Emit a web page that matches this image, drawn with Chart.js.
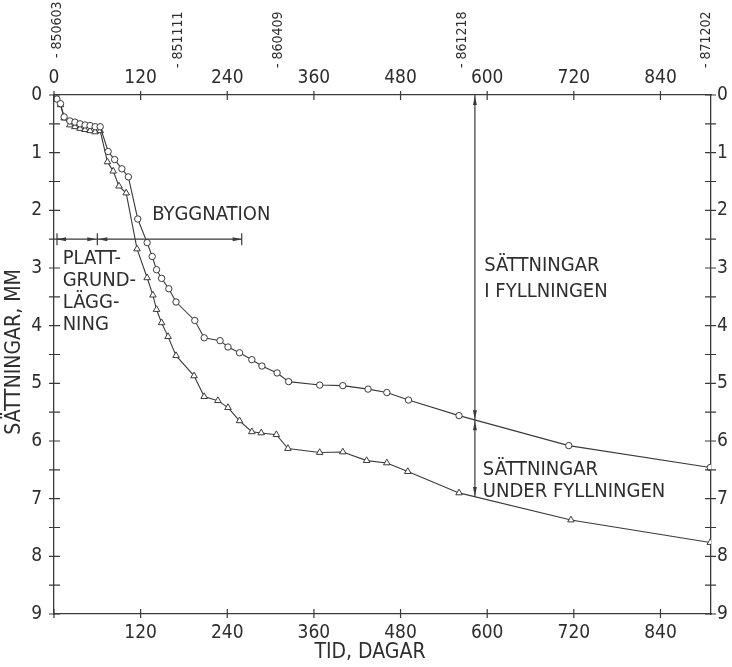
<!DOCTYPE html>
<html lang="sv">
<head>
<meta charset="utf-8">
<title>Sättningar</title>
<style>
  * { margin: 0; padding: 0; }
  body { background: #fff; }
  canvas { display: block; }
</style>
</head>
<body>
<canvas id="chart" width="732" height="667"></canvas>
<script src="https://cdn.jsdelivr.net/npm/chart.js/dist/chart.umd.min.js"></script>
<script>
// settlement under the slab (circles) and in the fill (triangles)
const circleDays = [4, 9, 14, 22, 29, 36, 43, 50, 57, 64, 75, 84, 94, 103, 116, 129, 136, 142, 149, 159, 169, 195, 208, 230, 241, 257, 274, 288, 309, 325, 368, 400, 435, 461, 491, 561, 713, 909];
const circleMm   = [0.07, 0.15, 0.38, 0.45, 0.47, 0.5, 0.52, 0.53, 0.55, 0.55, 0.98, 1.12, 1.28, 1.42, 2.15, 2.56, 2.8, 3.03, 3.18, 3.36, 3.59, 3.91, 4.21, 4.26, 4.37, 4.47, 4.59, 4.7, 4.82, 4.97, 5.03, 5.04, 5.1, 5.16, 5.29, 5.56, 6.08, 6.46];
const triDays = [4, 9, 14, 22, 29, 36, 43, 50, 57, 64, 74, 82, 90, 100, 115, 129, 137, 142, 149, 158, 169, 194, 208, 227, 241, 257, 274, 287, 308, 324, 368, 400, 433, 461, 490, 561, 716, 909];
const triMm   = [0.08, 0.17, 0.4, 0.52, 0.55, 0.58, 0.6, 0.62, 0.64, 0.62, 1.16, 1.32, 1.58, 1.7, 2.67, 3.17, 3.47, 3.72, 3.95, 4.19, 4.52, 4.87, 5.23, 5.3, 5.42, 5.65, 5.84, 5.86, 5.89, 6.13, 6.2, 6.19, 6.34, 6.38, 6.53, 6.9, 7.37, 7.76];

const xTicks = [0, 120, 240, 360, 480, 600, 720, 840];
const yTicks = [0, 0.5, 1, 1.5, 2, 2.5, 3, 3.5, 4, 4.5, 5, 5.5, 6, 6.5, 7, 7.5, 8, 8.5, 9];

// dates along the top (day where they sit)
const dateLabels = ['850603', '851111', '860409', '861218', '871202'];
const dateDays   = [4, 172, 311, 566, 904];

// construction phases (days) at settlement level 2.5 mm
const phaseDays = [0, 60, 260];
const phaseLevel = 2.5;
// vertical measure at day 583: fill part and under-fill part
const measureDay = 583;
const measureLevels = [0, 5.64, 6.97];

const ink = '#3a3a3a';
const FONT = "'Liberation Sans Narrow', 'DejaVu Sans Condensed', sans-serif";

function arrowHead(ctx, x, y, dir) {
  // tip at x,y
  ctx.beginPath();
  if (dir === 'down') { ctx.moveTo(x, y); ctx.lineTo(x - 2, y - 9); ctx.lineTo(x + 2, y - 9); }
  if (dir === 'up') { ctx.moveTo(x, y); ctx.lineTo(x - 2, y + 9); ctx.lineTo(x + 2, y + 9); }
  if (dir === 'left') { ctx.moveTo(x, y); ctx.lineTo(x + 9, y - 2); ctx.lineTo(x + 9, y + 2); }
  if (dir === 'right') { ctx.moveTo(x, y); ctx.lineTo(x - 9, y - 2); ctx.lineTo(x - 9, y + 2); }
  ctx.closePath();
  ctx.fill();
}

const extras = {
  id: 'extras',
  afterDraw(chart) {
    const ctx = chart.ctx;
    const xs = chart.scales.x, ys = chart.scales.y;
    const a = chart.chartArea;
    ctx.save();
    ctx.strokeStyle = ink;
    ctx.fillStyle = '#2e2e2e';
    ctx.lineWidth = 1.2;

    // tick marks crossing the frame
    ctx.beginPath();
    yTicks.forEach(v => {
      const py = ys.getPixelForValue(v);
      ctx.moveTo(a.left - 5, py); ctx.lineTo(a.left + 6, py);
      ctx.moveTo(a.right - 6, py); ctx.lineTo(a.right + 5, py);
    });
    xTicks.forEach(v => {
      const px = xs.getPixelForValue(v);
      ctx.moveTo(px, a.top - 4); ctx.lineTo(px, a.top + 5);
      ctx.moveTo(px, a.bottom - 5); ctx.lineTo(px, a.bottom + 4);
    });
    ctx.stroke();

    // dates, rotated
    ctx.font = '14px ' + FONT;
    ctx.textBaseline = 'middle';
    ctx.textAlign = 'left';
    dateLabels.forEach((t, i) => {
      const px = xs.getPixelForValue(dateDays[i]);
      ctx.save();
      ctx.translate(px, i === 0 ? 58 : 68);
      ctx.rotate(-Math.PI / 2);
      ctx.fillText('- ' + t, 0, 0);
      ctx.restore();
    });

    // construction phase measure
    const yp = ys.getPixelForValue(phaseLevel);
    const p0 = xs.getPixelForValue(phaseDays[0]) + 3;
    const p1 = xs.getPixelForValue(phaseDays[1]);
    const p2 = xs.getPixelForValue(phaseDays[2]);
    ctx.beginPath();
    ctx.moveTo(p0, yp); ctx.lineTo(p2, yp);
    [p0, p1, p2].forEach(px => { ctx.moveTo(px, yp - 6); ctx.lineTo(px, yp + 6); });
    ctx.stroke();
    ctx.fillStyle = ink;
    arrowHead(ctx, p0, yp, 'left');
    arrowHead(ctx, p1 - 1, yp, 'right');
    arrowHead(ctx, p1 + 1, yp, 'left');
    arrowHead(ctx, p2, yp, 'right');

    // vertical measure
    const mx = xs.getPixelForValue(measureDay);
    const m0 = ys.getPixelForValue(measureLevels[0]);
    const m1 = ys.getPixelForValue(measureLevels[1]);
    const m2 = ys.getPixelForValue(measureLevels[2]);
    ctx.beginPath();
    ctx.moveTo(mx, m0); ctx.lineTo(mx, m2);
    ctx.stroke();
    arrowHead(ctx, mx, m0 + 1, 'up');
    arrowHead(ctx, mx, m1 - 1, 'down');
    arrowHead(ctx, mx, m1 + 1, 'up');
    arrowHead(ctx, mx, m2 - 1, 'down');

    // texts in plot
    ctx.fillStyle = '#2e2e2e';
    ctx.font = '20px ' + FONT;
    ctx.textAlign = 'left';
    ctx.fillText('BYGGNATION', xs.getPixelForValue(136), ys.getPixelForValue(2.08));
    ['PLATT-', 'GRUND-', 'LÄGG-', 'NING'].forEach((t, i) => {
      ctx.fillText(t, xs.getPixelForValue(12), ys.getPixelForValue(2.84) + i * 22);
    });
    ctx.fillText('SÄTTNINGAR', xs.getPixelForValue(596), ys.getPixelForValue(2.96));
    ctx.fillText('I FYLLNINGEN', xs.getPixelForValue(596), ys.getPixelForValue(2.96) + 26);
    ctx.fillText('SÄTTNINGAR', xs.getPixelForValue(594), ys.getPixelForValue(6.5));
    ctx.fillText('UNDER FYLLNINGEN', xs.getPixelForValue(594), ys.getPixelForValue(6.5) + 22);

    // axis titles
    ctx.font = '21px ' + FONT;
    ctx.textAlign = 'center';
    ctx.fillText('TID, DAGAR', 370, 653);
    ctx.save();
    ctx.translate(15, 352);
    ctx.rotate(-Math.PI / 2);
    ctx.fillText('SÄTTNINGAR, MM', 0, 0);
    ctx.restore();

    ctx.restore();
  }
};

function axis(position, extra) {
  const base = {
    type: 'linear',
    position: position,
    grid: { drawOnChartArea: false, drawTicks: false },
    border: { display: true, color: ink, width: 1.3 },
    ticks: { color: '#2e2e2e', font: { family: FONT, size: 19 }, autoSkip: false, maxRotation: 0 }
  };
  return Object.assign(base, extra);
}

new Chart(document.getElementById('chart'), {
  type: 'line',
  data: {
    datasets: [
      {
        label: 'cirklar',
        data: circleDays.map((d, i) => ({ x: d, y: circleMm[i] })),
        borderColor: ink, borderWidth: 1.1, tension: 0,
        pointStyle: 'circle', pointRadius: 3.2,
        pointBackgroundColor: '#fff', pointBorderColor: ink, pointBorderWidth: 1
      },
      {
        label: 'trianglar',
        data: triDays.map((d, i) => ({ x: d, y: triMm[i] })),
        borderColor: ink, borderWidth: 1.1, tension: 0,
        pointStyle: 'triangle', pointRadius: 3.8,
        pointBackgroundColor: '#fff', pointBorderColor: ink, pointBorderWidth: 1
      }
    ]
  },
  options: {
    responsive: false,
    animation: false,
    layout: { padding: 0 },
    plugins: { legend: { display: false }, tooltip: { enabled: false } },
    scales: {
      x: axis('bottom', {
        min: 0, max: 910,
        afterBuildTicks: s => { s.ticks = xTicks.map(v => ({ value: v })); },
        afterFit: s => { s.height = 53; },
        ticks: { color: '#2e2e2e', font: { family: FONT, size: 19 }, padding: 8, autoSkip: false, maxRotation: 0,
          callback: v => v === 0 ? '' : v }
      }),
      xTop: axis('top', {
        min: 0, max: 910,
        afterBuildTicks: s => { s.ticks = xTicks.map(v => ({ value: v })); },
        afterFit: s => { s.height = 95; },
        ticks: { color: '#2e2e2e', font: { family: FONT, size: 19 }, padding: 6, autoSkip: false, maxRotation: 0 }
      }),
      y: axis('left', {
        min: 0, max: 9, reverse: true,
        afterBuildTicks: s => { s.ticks = yTicks.map(v => ({ value: v })); },
        afterFit: s => { s.width = 54; },
        ticks: { color: '#2e2e2e', font: { family: FONT, size: 19 }, padding: 12, autoSkip: false,
          callback: v => Number.isInteger(v) ? v : '' }
      }),
      yRight: axis('right', {
        min: 0, max: 9, reverse: true,
        afterBuildTicks: s => { s.ticks = yTicks.map(v => ({ value: v })); },
        afterFit: s => { s.width = 21; },
        ticks: { color: '#2e2e2e', font: { family: FONT, size: 19 }, padding: 6, autoSkip: false,
          callback: v => Number.isInteger(v) ? v : '' }
      })
    }
  },
  plugins: [extras]
});
</script>
</body>
</html>
